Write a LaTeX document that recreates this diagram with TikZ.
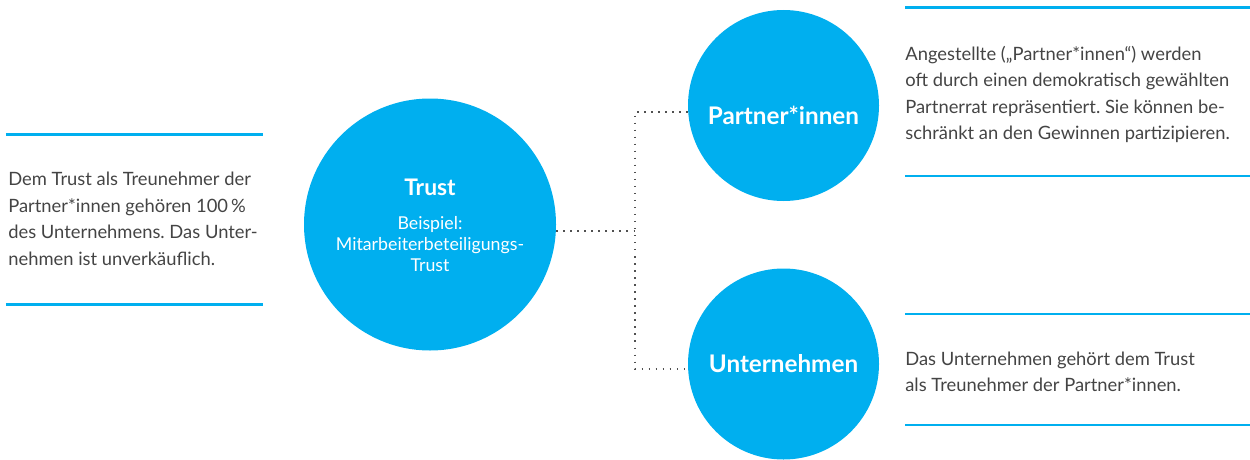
\documentclass[tikz,border=0pt]{standalone}
\usepackage{fontspec}
\setmainfont{Lato}
\usetikzlibrary{positioning}
\definecolor{trustblue}{RGB}{0,175,239}
\definecolor{textgray}{RGB}{68,68,68}
\definecolor{dotgray}{RGB}{80,80,80}
\frenchspacing

\newcommand{\bubtitle}{\fontsize{13}{16}\selectfont\bfseries}
\newcommand{\bubsub}{\fontsize{10.1}{12.9}\selectfont}

\tikzset{
  bubble/.style={circle, fill=trustblue, text=white, inner sep=0pt, align=center},
  rule/.style={draw=trustblue, line width=1.6pt},
  link/.style={draw=dotgray, line width=0.8pt, dash pattern=on 0.8pt off 3.2pt},
  note/.style={text=textgray, align=left, inner sep=0pt, anchor=north west,
    font=\fontsize{10.45}{15.1}\selectfont}
}

\begin{document}
\begin{tikzpicture}
    \useasboundingbox (0,0) rectangle (25,-9.18);

    % circles
    \node[bubble, minimum size=5.04cm] (trust) at (8.6,-4.49) {};
    \node[text=white, align=center, inner sep=0pt] (trustlbl) at ([yshift=-0.02cm]trust.center)
      {\bubtitle Trust\\[7pt]\bubsub Beispiel:\\\bubsub Mitarbeiterbeteiligungs-\\\bubsub Trust};
    \node[bubble, minimum size=3.82cm] (partner) at (15.67,-2.11) {};
    \node[text=white, font=\fontsize{13.8}{16}\selectfont\bfseries] (partnerlbl)
      at ([yshift=-0.2cm]partner.center) {Partner*innen};
    \node[bubble, minimum size=3.82cm, font=\fontsize{13.8}{16}\selectfont\bfseries]
      (untern) at (15.67,-7.28) {Unternehmen};

    % dotted connectors
    \coordinate (bus) at (12.7,0);
    \draw[link] (trust.-3.6) -- (trust.-3.6 -| bus);
    \draw[link] (partner.184.5) -- (partner.184.5 -| bus)
      -- (untern.183.3 -| bus) -- (untern.183.3);

    % left note
    \draw[rule] (0.12,-2.69) -- (5.26,-2.69);
    \draw[rule] (0.12,-6.09) -- (5.26,-6.09);
    \node[note] (leftnote) at (0.16,-3.44)
      {Dem Trust als Treunehmer der\\Partner*innen gehören 100\,\%\\
       des Unternehmens. Das Unter-\\nehmen ist unverkäuflich.};

    % right notes
    \draw[rule] (18.1,-0.15) -- (25,-0.15);
    \draw[rule] (18.1,-3.52) -- (25,-3.52);
    \node[note] (topnote) at (18.1,-0.91)
      {Angestellte („Partner*innen“) werden\\oft durch einen demokratisch gewählten\\
       Partnerrat repräsentiert. Sie können be-\\schränkt an den Gewinnen partizipieren.};

    \draw[rule] (18.1,-6.28) -- (25,-6.28);
    \draw[rule] (18.1,-8.5) -- (25,-8.5);
    \node[note] (botnote) at (18.1,-7.03)
      {Das Unternehmen gehört dem Trust\\als Treunehmer der Partner*innen.};
\end{tikzpicture}
\end{document}
